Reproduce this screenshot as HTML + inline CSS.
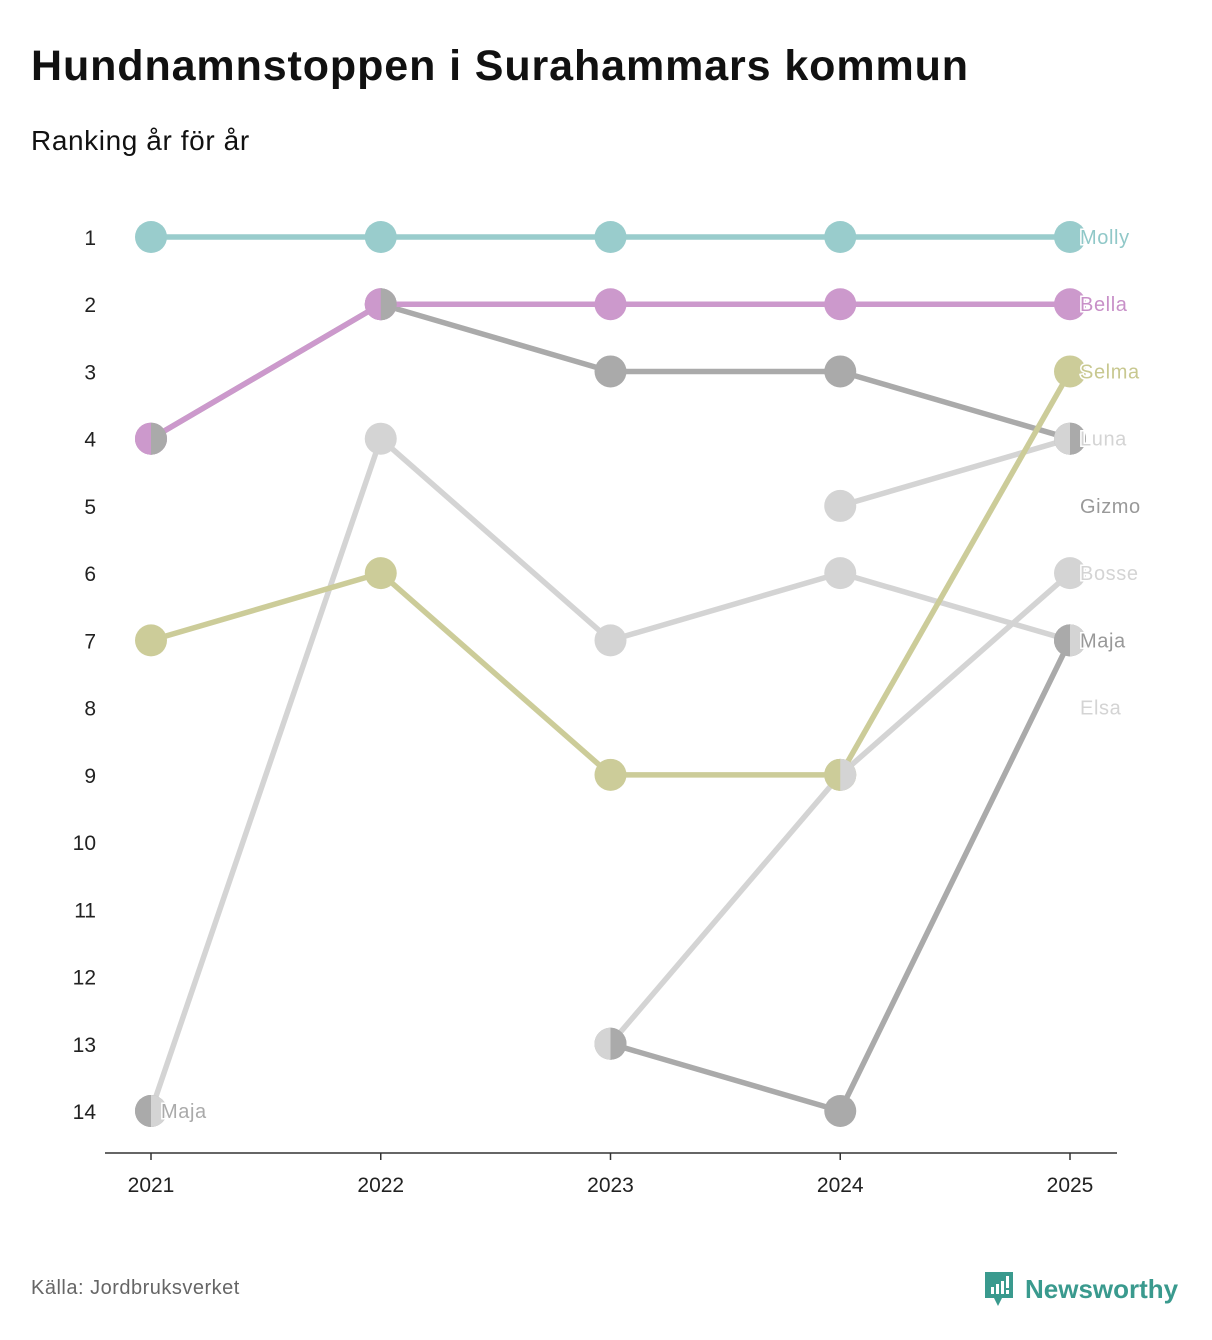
<!DOCTYPE html>
<html><head><meta charset="utf-8"><style>
body{margin:0;background:#fff;font-family:"Liberation Sans",sans-serif;}
#wrap{position:relative;width:1212px;height:1340px;overflow:hidden}
h1{position:absolute;left:31px;top:42px;margin:0;font-size:43px;font-weight:bold;color:#111;letter-spacing:0.9px}
.sub{position:absolute;left:31px;top:125px;font-size:28px;color:#111;letter-spacing:0.6px}
.src{position:absolute;left:31px;top:1277px;font-size:20px;color:#666;letter-spacing:0.5px}
.logo{position:absolute;left:983px;top:1270px;display:flex;align-items:center;gap:10px;color:#3a9a8e;font-size:26px;font-weight:bold}
</style></head><body><div id="wrap">
<h1>Hundnamnstoppen i Surahammars kommun</h1>
<div class="sub">Ranking år för år</div>
<svg id="chart" width="1212" height="1340" style="position:absolute;left:0;top:0"></svg>
<div class="src">Källa: Jordbruksverket</div>
<div class="logo"><svg width="32" height="38" viewBox="0 0 32 38"><path d="M2 2h28v26H19l-4 8-4-8H2z" fill="#3a9a8e"/><rect x="8" y="17" width="3" height="7" fill="#fff"/><rect x="13" y="14" width="3" height="10" fill="#fff"/><rect x="18" y="11" width="3" height="13" fill="#fff"/><rect x="23" y="6" width="3" height="12" fill="#fff"/><rect x="23" y="20" width="3" height="4" fill="#fff"/></svg><span>Newsworthy</span></div>
</div>
<script>
const years=[2021,2022,2023,2024,2025];
const names=["Elsa","Bosse","Luna","Maja","Gizmo","Selma","Bella","Molly"];
const colors=["#d4d4d4","#d4d4d4","#d4d4d4","#aaaaaa","#aaaaaa","#cccc99","#cc99cc","#99cccc"];
const labelColors=["#d4d4d4","#d4d4d4","#d4d4d4","#999999","#999999","#c8c890","#c890c8","#90c8c8"];
const ranks=[
 [14,4,7,6,7],
 [null,null,13,9,6],
 [null,null,null,5,4],
 [14,null,13,14,7],
 [4,2,3,3,4],
 [7,6,9,9,3],
 [4,2,2,2,2],
 [1,1,1,1,1]
];
const labelRanks=[8,6,4,7,5,3,2,1];
const ticks=[1,2,3,4,5,6,7,8,9,10,11,12,13,14];
const ties=[[0,14,"Maja","Elsa"],[0,4,"Bella","Gizmo"],[1,2,"Bella","Gizmo"],[2,13,"Bosse","Maja"],[3,9,"Selma","Bosse"],[4,4,"Luna","Gizmo"],[4,7,"Maja","Elsa"]];
const x=i=>151+i*229.75;
const y=r=>237+(r-1)*67.23;
const svg=document.getElementById('chart');
const NS="http://www.w3.org/2000/svg";
function mk(t,a,p){const e=document.createElementNS(NS,t);for(const k in a)e.setAttribute(k,a[k]);(p||svg).appendChild(e);return e;}
ticks.forEach(t=>{const e=mk('text',{x:96,y:y(t)+8,'text-anchor':'end','font-size':21,fill:'#222'});e.textContent=t;

});
const ax=mk('line',{x1:105,x2:1117,y1:1153,y2:1153,stroke:'#333','stroke-width':1.5});


years.forEach((yr,i)=>{mk('line',{x1:x(i),x2:x(i),y1:1153,y2:1160,stroke:'#333','stroke-width':1.5});
const e=mk('text',{x:x(i),y:1192,'text-anchor':'middle','font-size':21,fill:'#222'});e.textContent=yr;

});
names.forEach((n,s)=>{
 const g=mk('g',{});
 
 
 const r=ranks[s];
 for(let i=0;i<4;i++){if(r[i]!=null&&r[i+1]!=null){mk('line',{x1:x(i),y1:y(r[i]),x2:x(i+1),y2:y(r[i+1]),stroke:colors[s],'stroke-width':5.5},g);}}
 r.forEach((v,i)=>{if(v!=null){const c=mk('circle',{cx:x(i),cy:y(v),r:16,fill:colors[s]},g);
 
 }});
});
ties.forEach(t=>{const cx=x(t[0]),cy=y(t[1]);
 const l=colors[names.indexOf(t[2])],rc=colors[names.indexOf(t[3])];
 mk('path',{d:`M${cx},${cy-16}A16,16 0 0 0 ${cx},${cy+16}Z`,fill:l});
 const p=mk('path',{d:`M${cx},${cy-16}A16,16 0 0 1 ${cx},${cy+16}Z`,fill:rc});
 
 });
function label(txt,lx,ly,col){const e=mk('text',{x:lx,y:ly+7,'font-size':20,'letter-spacing':0.6,fill:col,stroke:'#fff','stroke-width':3,'paint-order':'stroke'});e.textContent=txt;

}
names.forEach((n,s)=>label(n,1080,y(labelRanks[s]),labelColors[s]));
label("Maja",161,y(14),"#aaaaaa");
</script>
</body></html>
